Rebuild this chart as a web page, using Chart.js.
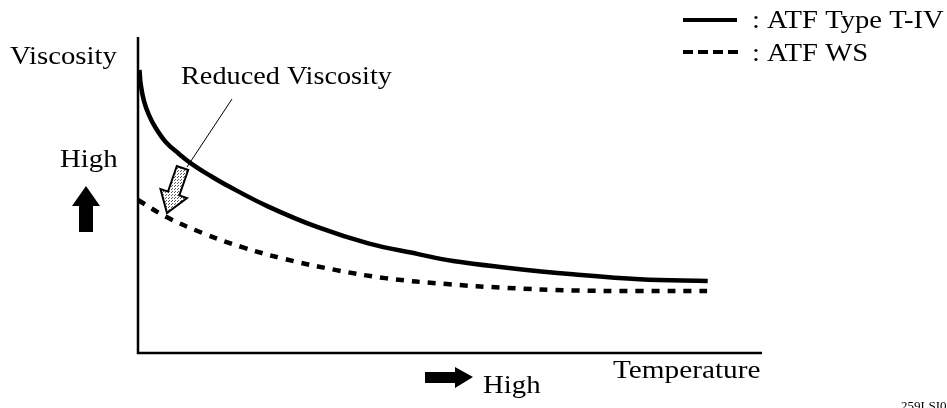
<!DOCTYPE html>
<html>
<head>
<meta charset="utf-8">
<script src="https://cdn.jsdelivr.net/npm/chart.js@4.4.1/dist/chart.umd.min.js"></script>
<style>
html,body{margin:0;padding:0;background:#fff;}
#wrap{width:947px;height:408px;position:relative;}
</style>
</head>
<body>
<div id="wrap"><canvas id="c" width="947" height="408"></canvas></div>
<script>
// Relative temperature (0..100) and relative viscosity (0..100)
const tempT4 = [0.24, 0.43, 0.96, 1.76, 2.84, 4.44, 6.57, 8.65, 11.5, 14.3, 20.8, 28.8, 36.9, 44.9, 50.5, 59.1, 69.7, 80.4, 91.3];
const viscT4 = [89.6, 85.1, 79.7, 75.3, 71.2, 66.8, 63.0, 59.8, 56.2, 53.0, 46.4, 39.8, 34.7, 31.3, 29.1, 27.0, 24.9, 23.3, 22.8];
const tempWS = [0.0, 4.6, 10.3, 16.7, 23.6, 31.6, 39.6, 49.5, 59.1, 69.7, 80.4, 91.2];
const viscWS = [48.4, 43.0, 38.0, 33.5, 29.7, 26.3, 23.7, 21.8, 20.6, 19.8, 19.6, 19.6];
const seriesLabels = ['ATF Type T-IV', 'ATF WS'];
const axisLabels = { y: 'Viscosity', x: 'Temperature', high: 'High', note: 'Reduced Viscosity', code: '259LSI01' };

const FONT = '"Liberation Serif", "Times New Roman", serif';
const SX = 1.15;

function pts(xs, ys){ return xs.map((x,i)=>({x:x, y:ys[i]})); }

function drawText(ctx, txt, x, y, size, sx){
  ctx.save();
  ctx.translate(x, y);
  ctx.scale(sx, 1);
  ctx.font = size + 'px ' + FONT;
  ctx.fillStyle = '#000';
  ctx.textBaseline = 'alphabetic';
  ctx.textAlign = 'left';
  ctx.fillText(txt, 0, 0);
  ctx.restore();
}

function makePattern(ctx){
  const p = document.createElement('canvas');
  p.width = 3; p.height = 3;
  const g = p.getContext('2d');
  g.fillStyle = '#fff'; g.fillRect(0,0,3,3);
  g.fillStyle = '#555'; g.fillRect(0,0,1,1); g.fillRect(1,2,1,1);
  return ctx.createPattern(p, 'repeat');
}

const decor = {
  id: 'decor',
  beforeDatasetsDraw(chart){
    const ctx = chart.ctx, a = chart.chartArea;
    ctx.save();
    ctx.strokeStyle = '#000';
    ctx.lineWidth = 2.5;
    ctx.beginPath();
    ctx.moveTo(a.left, a.top);
    ctx.lineTo(a.left, a.bottom);
    ctx.lineTo(a.right, a.bottom);
    ctx.stroke();
    ctx.restore();
  },
  afterDatasetsDraw(chart){
    const ctx = chart.ctx;
    const ds = chart.data.datasets;
    // legend
    ctx.save();
    ctx.strokeStyle = '#000';
    ctx.lineWidth = 4;
    ctx.beginPath(); ctx.moveTo(683, 20); ctx.lineTo(737, 20); ctx.stroke();
    ctx.setLineDash([10, 5]);
    ctx.beginPath(); ctx.moveTo(683, 52); ctx.lineTo(740, 52); ctx.stroke();
    ctx.restore();
    drawText(ctx, ': ' + ds[0].label, 752, 28, 25, 1.145);
    drawText(ctx, ': ' + ds[1].label, 752, 61, 25, 1.145);

    // axis labels
    drawText(ctx, axisLabels.y, 10, 64, 25, SX);
    drawText(ctx, axisLabels.high, 60, 167, 25, SX);
    drawText(ctx, axisLabels.x, 613, 378, 25, 1.17);
    drawText(ctx, axisLabels.high, 483, 393, 25, SX);
    drawText(ctx, axisLabels.note, 181, 84, 25, 1.13);
    ctx.save();
    ctx.font = '13px ' + FONT;
    ctx.fillStyle = '#000';
    ctx.fillText(axisLabels.code, 901, 410);
    ctx.restore();

    // up arrow
    ctx.save();
    ctx.fillStyle = '#000';
    ctx.beginPath();
    ctx.moveTo(86, 186); ctx.lineTo(100, 206); ctx.lineTo(93, 206); ctx.lineTo(93, 232);
    ctx.lineTo(79, 232); ctx.lineTo(79, 206); ctx.lineTo(72, 206); ctx.closePath();
    ctx.fill();
    // right arrow
    ctx.beginPath();
    ctx.moveTo(473, 377); ctx.lineTo(455, 367); ctx.lineTo(455, 372); ctx.lineTo(425, 372);
    ctx.lineTo(425, 383); ctx.lineTo(455, 383); ctx.lineTo(455, 388); ctx.closePath();
    ctx.fill();
    // pointer line
    ctx.strokeStyle = '#000';
    ctx.lineWidth = 1;
    ctx.beginPath(); ctx.moveTo(232, 99); ctx.lineTo(187, 167); ctx.stroke();
    // hollow stippled arrow
    const tail = {x:182.5, y:168}, tip = {x:167, y:213};
    const dx = tip.x - tail.x, dy = tip.y - tail.y, L = Math.hypot(dx, dy);
    const ux = dx/L, uy = dy/L, nx = -uy, ny = ux;
    const hb = 27, sw = 6, hw = 14;
    const P = (t, s) => [tail.x + ux*t + nx*s, tail.y + uy*t + ny*s];
    const poly = [P(0,-sw), P(hb,-sw), P(hb,-hw), P(L,0), P(hb,hw), P(hb,sw), P(0,sw)];
    ctx.beginPath();
    poly.forEach((p,i)=> i ? ctx.lineTo(p[0],p[1]) : ctx.moveTo(p[0],p[1]));
    ctx.closePath();
    ctx.fillStyle = makePattern(ctx);
    ctx.fill();
    ctx.lineWidth = 2;
    ctx.lineJoin = 'miter';
    ctx.stroke();
    ctx.restore();
  }
};

new Chart(document.getElementById('c'), {
  type: 'line',
  data: {
    datasets: [
      { label: seriesLabels[0], data: pts(tempT4, viscT4), borderColor: '#000', borderWidth: 4.5,
        pointRadius: 0, tension: 0.4, fill: false, borderCapStyle: 'butt', borderJoinStyle: 'round' },
      { label: seriesLabels[1], data: pts(tempWS, viscWS), borderColor: '#000', borderWidth: 4.5,
        borderDash: [8, 8], pointRadius: 0, tension: 0.4, fill: false, borderCapStyle: 'butt' }
    ]
  },
  options: {
    responsive: false,
    animation: false,
    devicePixelRatio: 1,
    layout: { padding: { left: 138, right: 185, top: 37, bottom: 55 } },
    plugins: { legend: { display: false }, tooltip: { enabled: false } },
    scales: {
      x: { type: 'linear', min: 0, max: 100, display: false },
      y: { type: 'linear', min: 0, max: 100, display: false }
    }
  },
  plugins: [decor]
});
</script>
</body>
</html>
